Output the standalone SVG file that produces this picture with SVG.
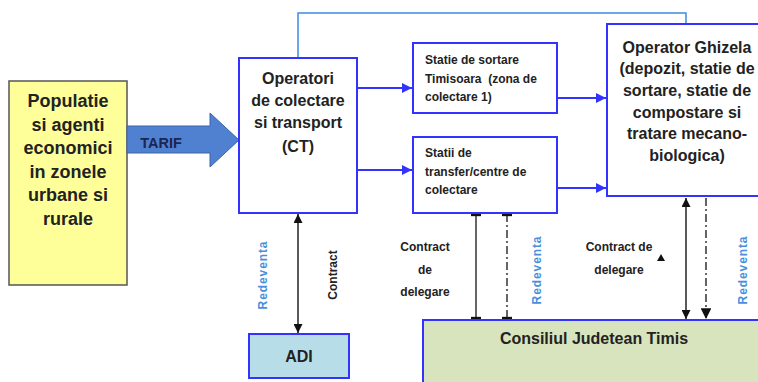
<svg xmlns="http://www.w3.org/2000/svg" width="758" height="382" viewBox="0 0 758 382">
<style>
text{font-family:"Liberation Sans",Arial,sans-serif;font-weight:bold;fill:#222;}
.big{font-size:18px;text-anchor:middle;}
.mid{font-size:16px;text-anchor:middle;}
.sm{font-size:12px;}
.lbl{font-size:12px;text-anchor:middle;}
.blue{fill:#4a8fdc;letter-spacing:0.9px;}
.box{fill:#fff;stroke:#3333ff;stroke-width:2;}
.bl{stroke:#3333ff;stroke-width:2;fill:none;}
.blk{stroke:#222;stroke-width:1.5;fill:none;}
.gry{stroke:#555;stroke-width:1.8;fill:none;}
</style>
<defs>
<marker id="ab" viewBox="0 0 10 10" refX="10" refY="5" markerWidth="5" markerHeight="5" orient="auto"><path d="M0,0L10,5L0,10z" fill="#3333ff"/></marker>
<marker id="ak" viewBox="0 0 10 10" refX="10" refY="5" markerWidth="6" markerHeight="6" orient="auto-start-reverse"><path d="M0,0L10,5L0,10z" fill="#111"/></marker>
<marker id="bar" viewBox="0 0 10 10" refX="5" refY="5" markerWidth="6" markerHeight="6" orient="auto"><rect x="3" y="0" width="4" height="10" fill="#111"/></marker>
</defs>
<g id="connectors">
<polyline points="298,58 298,13 686,13 686,24" fill="none" stroke="#3c8ce0" stroke-width="1.5"/>
<line class="bl" x1="357" y1="88" x2="412" y2="88" marker-end="url(#ab)"/>
<line class="bl" x1="357" y1="170" x2="412" y2="170" marker-end="url(#ab)"/>
<line class="bl" x1="557" y1="98" x2="606" y2="98" marker-end="url(#ab)"/>
<line class="bl" x1="557" y1="188" x2="606" y2="188" marker-end="url(#ab)"/>
<line class="blk" x1="298" y1="214" x2="298" y2="333" marker-start="url(#ak)" marker-end="url(#ak)"/>
<line class="gry" x1="476" y1="214" x2="476" y2="319" marker-start="url(#bar)" marker-end="url(#bar)"/>
<line class="gry" x1="507" y1="214" x2="507" y2="319" stroke-dasharray="8,3,2,3" marker-start="url(#bar)" marker-end="url(#bar)"/>
<line class="blk" x1="686" y1="198" x2="686" y2="319" marker-start="url(#ak)" marker-end="url(#ak)"/>
<line class="gry" x1="706" y1="198" x2="706" y2="319" stroke-dasharray="8,3,2,3" marker-end="url(#ak)"/>
</g>
<g id="populatie">
<rect x="9" y="81" width="118" height="204" fill="#ffff99" stroke="#555" stroke-width="1.5"/>
<text class="big" x="68" y="107">Populatie</text>
<text class="big" x="68" y="131">si agenti</text>
<text class="big" x="68" y="154">economici</text>
<text class="big" x="68" y="178">in zonele</text>
<text class="big" x="68" y="201">urbane si</text>
<text class="big" x="68" y="225">rurale</text>
</g>
<g id="tarif">
<path d="M127,126L210,126L210,113L239,140L210,167L210,153L127,153z" fill="#4f81d0" stroke="#3a64a8" stroke-width="1"/>
<text x="161" y="148" style="font-size:14.5px;text-anchor:middle;fill:#1a2550">TARIF</text>
</g>
<g id="ct">
<rect class="box" x="239" y="58" width="118" height="155"/>
<text class="mid" x="298" y="84">Operatori</text>
<text class="mid" x="298" y="106">de colectare</text>
<text class="mid" x="298" y="128">si transport</text>
<text class="mid" x="298" y="152">(CT)</text>
</g>
<g id="sortare">
<rect class="box" x="413" y="43" width="144" height="70"/>
<text class="sm" x="425" y="64">Statie de sortare</text>
<text class="sm" x="425" y="83" xml:space="preserve">Timisoara  (zona de</text>
<text class="sm" x="425" y="101">colectare 1)</text>
</g>
<g id="transfer">
<rect class="box" x="413" y="137" width="144" height="76"/>
<text class="sm" x="425" y="157">Statii de</text>
<text class="sm" x="425" y="176">transfer/centre de</text>
<text class="sm" x="425" y="194">colectare</text>
</g>
<g id="ghizela">
<rect class="box" x="607" y="24" width="170" height="172"/>
<text class="mid" x="687" y="53">Operator Ghizela</text>
<text class="mid" x="687" y="74">(depozit, statie de</text>
<text class="mid" x="687" y="96">sortare, statie de</text>
<text class="mid" x="687" y="118">compostare si</text>
<text class="mid" x="687" y="139">tratare mecano-</text>
<text class="mid" x="687" y="161">biologica)</text>
</g>
<g id="adi">
<rect x="249" y="334" width="100" height="44" fill="#b7dde8" stroke="#3333ff" stroke-width="2"/>
<text class="mid" x="299" y="362">ADI</text>
</g>
<g id="consiliul">
<rect x="423" y="320" width="360" height="70" fill="#d7e4bd" stroke="#3333ff" stroke-width="2"/>
<text class="mid" x="594" y="344">Consiliul Judetean Timis</text>
</g>
<g id="labels">
<text class="lbl blue" transform="translate(267,275) rotate(-90)">Redeventa</text>
<text class="lbl" transform="translate(337,275) rotate(-90)">Contract</text>
<text class="lbl" x="425" y="251">Contract</text>
<text class="lbl" x="425" y="274">de</text>
<text class="lbl" x="425" y="296">delegare</text>
<text class="lbl blue" transform="translate(541,270) rotate(-90)">Redeventa</text>
<text class="lbl" x="619" y="251">Contract de</text>
<text class="lbl" x="619" y="274">delegare</text>
<path d="M657,261L661,254L665,261z" fill="#111"/>
<text class="lbl blue" transform="translate(747,270) rotate(-90)">Redeventa</text>
</g>
</svg>
